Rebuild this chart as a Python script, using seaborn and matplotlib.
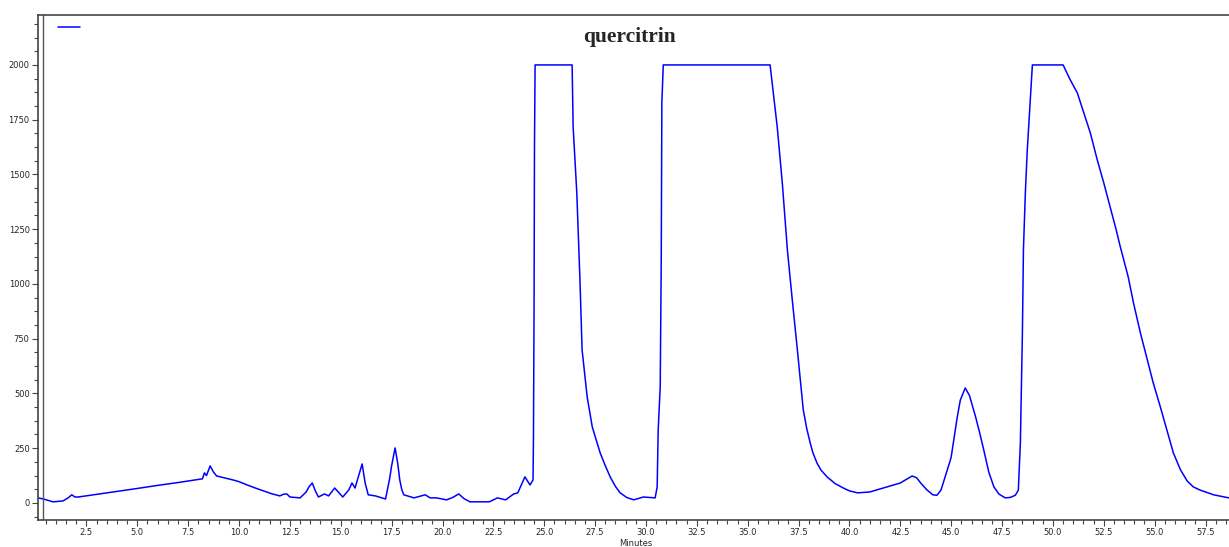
import numpy as np
import pandas as pd
import matplotlib
matplotlib.use('Agg')
import matplotlib.pyplot as plt
import matplotlib.ticker as mticker
import seaborn as sns

# ── Data ───────────────────────────────────────────────────────────────────────
minutes = [
    0.12, 0.38, 0.86, 1.35, 1.6, 1.78, 1.94, 2.1, 3.0, 4.0, 5.0, 6.0, 7.0, 8.0,
    8.2, 8.3, 8.4, 8.58, 8.75, 8.9, 9.7, 10.0, 10.4, 10.8, 11.2, 11.6, 12.0,
    12.2, 12.35, 12.5, 13.0, 13.3, 13.45, 13.6, 13.75, 13.9, 14.2, 14.4, 14.7,
    15.1, 15.4, 15.55, 15.7, 15.9, 16.05, 16.2, 16.35, 16.7, 17.2, 17.4, 17.5,
    17.67, 17.8, 17.9, 18.0, 18.1, 18.6, 19.15, 19.4, 19.7, 20.2, 20.5, 20.8,
    21.05, 21.35, 22.3, 22.7, 23.1, 23.5, 23.7, 24.05, 24.3, 24.45, 24.47,
    24.5, 24.52, 24.55, 26.37, 26.42, 26.6, 26.76, 26.86, 27.11, 27.36, 27.75,
    28.0, 28.24, 28.5, 28.73, 29.05, 29.4, 29.87, 30.45, 30.55, 30.6, 30.7,
    30.75, 30.78, 30.83, 30.85, 36.1, 36.45, 36.7, 36.95, 37.19, 37.44, 37.73,
    37.9, 38.07, 38.2, 38.4, 38.6, 38.9, 39.3, 39.7, 40.0, 40.4, 41.0, 41.85,
    42.5, 43.08, 43.3, 43.5, 43.8, 44.1, 44.3, 44.5, 44.96, 45.0, 45.3, 45.45,
    45.69, 45.9, 46.2, 46.4, 46.6, 46.85, 47.1, 47.35, 47.66, 47.9, 48.15,
    48.25, 48.3, 48.4, 48.5, 48.55, 48.65, 48.74, 48.89, 48.99, 50.5, 50.85,
    51.2, 51.84, 52.18, 52.5, 53.1, 53.31, 53.7, 53.96, 54.3, 54.64, 54.93,
    55.28, 55.6, 55.92, 56.27, 56.6, 56.9, 57.25, 57.9, 58.7,
]
signal = [
    23, 18, 5, 9, 23, 37, 27, 27, 39, 52, 66, 80, 93, 107,
    110, 137, 125, 169, 140, 123, 105, 97, 82, 68, 55, 42, 32,
    40, 41, 27, 23, 50, 75, 91, 55, 27, 41, 32, 68,
    27, 60, 91, 68, 130, 178, 90, 37, 32, 18, 110, 170,
    251, 180, 105, 60, 37, 23, 37, 23, 23, 14, 25, 41,
    20, 5, 5, 23, 14, 41, 46, 119, 82, 105, 300,
    900, 1620, 2000, 2000, 1717, 1416, 1005, 699, 484, 347, 228,
    170, 119, 75, 46, 25, 14, 27, 23, 73, 333, 530,
    1110, 1826, 1950, 2000, 2000, 1717, 1461, 1155, 927, 699, 425,
    340, 274, 230, 183, 150, 119, 88, 68, 55, 46, 50, 73,
    91, 123, 115, 91, 60, 37, 35, 59, 196, 210, 393, 470,
    525, 490, 393, 320, 242, 140, 73, 40, 23, 25, 35,
    50, 59, 274, 776, 1155, 1429, 1612, 1840, 2000, 2000, 1932,
    1872, 1689, 1566, 1461, 1250, 1170, 1032, 913, 776, 653, 548,
    438, 333, 228, 151, 100, 73, 58, 37, 22,
]
df = pd.DataFrame({'Minutes': minutes, 'mAU': signal})

# ── Style ──────────────────────────────────────────────────────────────────────
sns.set_style('white')
plt.rcParams['font.family'] = ['DejaVu Sans']

fig = plt.figure(figsize=(12.29, 5.47), dpi=100)
ax = fig.add_axes([38 / 1229, 27 / 547, 1195 / 1229, 505 / 547])

sns.lineplot(data=df, x='Minutes', y='mAU', sort=False, estimator=None,
             color='#0000ff', linewidth=1.1, ax=ax)
ax.axvline(0.38, color='#555555', linewidth=1)

ax.set_xlim(0.12, 58.85)
ax.set_ylim(-78, 2228)

ax.xaxis.set_major_locator(mticker.MultipleLocator(2.5))
ax.xaxis.set_minor_locator(mticker.MultipleLocator(0.5))
ax.xaxis.set_major_formatter(mticker.FormatStrFormatter('%.1f'))
ax.yaxis.set_major_locator(mticker.MultipleLocator(250))
ax.yaxis.set_minor_locator(mticker.MultipleLocator(62.5))
ax.tick_params(which='both', direction='out', length=3, width=0.8,
               color='#444444', labelsize=6, pad=2, left=True, bottom=True)
ax.tick_params(which='major', length=4)

for side in ['left', 'bottom', 'top']:
    ax.spines[side].set_color('#444444')
    ax.spines[side].set_linewidth(1.2)
ax.spines['right'].set_visible(False)

ax.set_xlabel('Minutes', fontsize=6, labelpad=1)
ax.set_ylabel('')

ax.text(0.495, 0.956, 'quercitrin', transform=ax.transAxes, ha='center',
        va='center', fontsize=15.5, fontweight='bold', family='Liberation Serif')

line = ax.get_lines()[0]
ax.legend([line], [' '], loc='center left', bbox_to_anchor=(0.0168, 0.976),
          frameon=False, handlelength=2.6, fontsize=6, borderpad=0,
          borderaxespad=0, handletextpad=0)

fig.savefig('out.png', dpi=100)
